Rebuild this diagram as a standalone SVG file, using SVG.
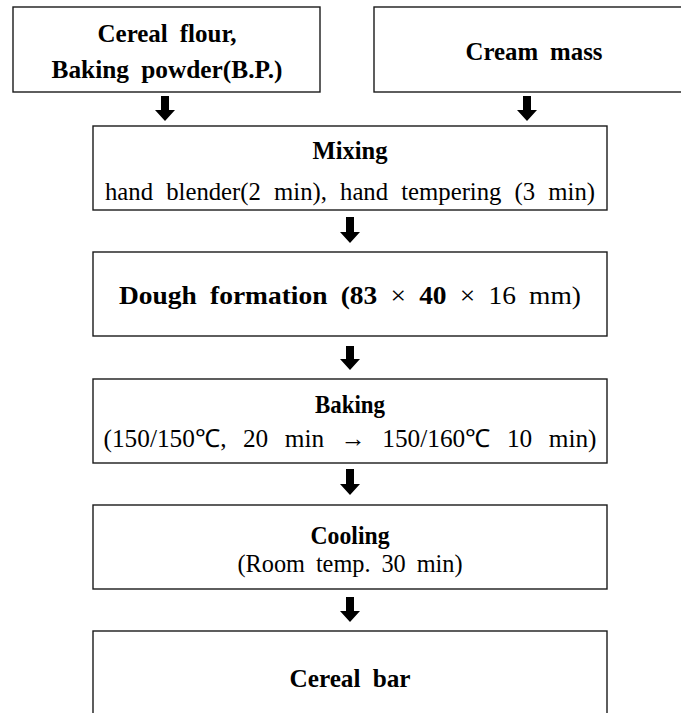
<svg xmlns="http://www.w3.org/2000/svg" width="681" height="713" viewBox="0 0 681 713">
<defs>
<style>
.box{fill:#fff;stroke:#1a1a1a;stroke-width:1.4}
.b{font-family:"Liberation Serif","Times New Roman",serif;font-weight:bold;font-size:26px;fill:#000;text-anchor:middle;word-spacing:6px}
.r{font-family:"Liberation Serif","Times New Roman",serif;font-size:25px;fill:#000;text-anchor:middle;word-spacing:7px}
.arr{fill:#000}
</style>
</defs>
<rect width="681" height="713" fill="#fff"/>
<g id="node-cereal-flour">
<rect class="box" x="13" y="7" width="307" height="85"/>
<text class="b" x="167" y="42" textLength="139" lengthAdjust="spacingAndGlyphs">Cereal flour,</text>
<text class="b" x="167" y="78" textLength="231" lengthAdjust="spacingAndGlyphs">Baking powder(B.P.)</text>
</g>
<g id="node-cream-mass">
<rect class="box" x="374" y="7" width="330" height="85"/>
<text class="b" x="534" y="60" textLength="137" lengthAdjust="spacingAndGlyphs">Cream mass</text>
</g>
<g id="node-mixing">
<rect class="box" x="93" y="126" width="514" height="84"/>
<text class="b" x="350" y="159" textLength="75" lengthAdjust="spacingAndGlyphs">Mixing</text>
<text class="r" x="350" y="200" textLength="490" lengthAdjust="spacingAndGlyphs">hand blender(2 min), hand tempering (3 min)</text>
</g>
<g id="node-dough">
<rect class="box" x="93" y="252" width="514" height="84"/>
<text class="b" x="350" y="304" textLength="462" lengthAdjust="spacingAndGlyphs">Dough formation (83 <tspan font-weight="normal">×</tspan> 40 <tspan font-weight="normal">× 16 mm)</tspan></text>
</g>
<g id="node-baking">
<rect class="box" x="93" y="379" width="514" height="84"/>
<text class="b" x="350" y="413" textLength="70" lengthAdjust="spacingAndGlyphs">Baking</text>
<text class="r" x="350" y="447" style="word-spacing:10px" textLength="493" lengthAdjust="spacingAndGlyphs">(150/150℃, 20 min → 150/160℃ 10 min)</text>
</g>
<g id="node-cooling">
<rect class="box" x="93" y="505" width="514" height="84"/>
<text class="b" x="350" y="544" textLength="79" lengthAdjust="spacingAndGlyphs">Cooling</text>
<text class="r" x="350" y="572" style="word-spacing:5px" textLength="225" lengthAdjust="spacingAndGlyphs">(Room temp. 30 min)</text>
</g>
<g id="node-cereal-bar">
<rect class="box" x="93" y="631" width="514" height="100"/>
<text class="b" x="350" y="687" textLength="121" lengthAdjust="spacingAndGlyphs">Cereal bar</text>
</g>
<g id="connectors">
<path class="arr" d="M161,96 h8 v14 h6 l-10,11 l-10,-11 h6 z"/>
<path class="arr" d="M523,96 h8 v14 h6 l-10,11 l-10,-11 h6 z"/>
<path class="arr" d="M346,217 h8 v15 h6 l-10,11 l-10,-11 h6 z"/>
<path class="arr" d="M346,346 h8 v13 h6 l-10,11 l-10,-11 h6 z"/>
<path class="arr" d="M346,469 h8 v15 h6 l-10,11 l-10,-11 h6 z"/>
<path class="arr" d="M346,597 h8 v14 h6 l-10,11 l-10,-11 h6 z"/>
</g>
</svg>
